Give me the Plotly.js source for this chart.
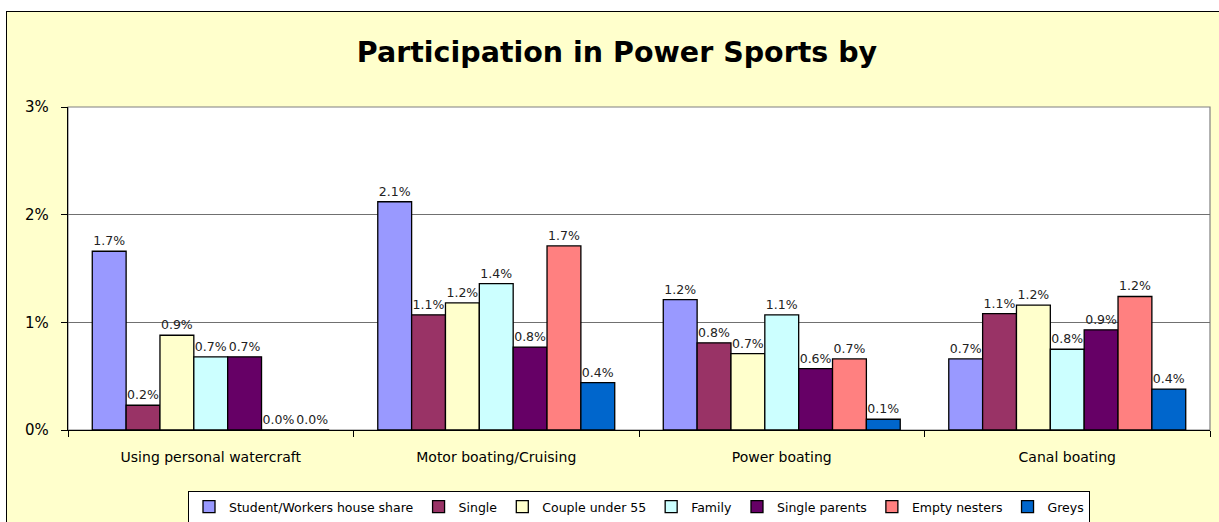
<!DOCTYPE html>
<html>
<head>
<meta charset="utf-8">
<script src="https://cdn.plot.ly/plotly-3.0.1.min.js"></script>
<style>
  html, body { margin: 0; padding: 0; background: #ffffff; width: 1219px; height: 522px; overflow: hidden; }
  #frame { position: absolute; left: 6px; top: 11px; width: 1220px; height: 520px; border: 1.5px solid #000; background: #FFFFCC; }
  #chart { width: 1220px; height: 520px; }
</style>
</head>
<body>
<div id="frame"><div id="chart"></div></div>
<script>
const categories = ["Using personal watercraft", "Motor boating/Cruising", "Power boating", "Canal boating"];
const seriesNames = ["Student/Workers house share", "Single", "Couple under 55", "Family", "Single parents", "Empty nesters", "Greys"];
const seriesColors = ["#9999FF", "#993366", "#FFFFCC", "#CCFFFF", "#660066", "#FF8080", "#0066CC"];
// values in percent
const studentWorkers = [1.66, 2.12, 1.21, 0.66];
const single = [0.23, 1.07, 0.81, 1.08];
const coupleUnder55 = [0.88, 1.18, 0.71, 1.16];
const family = [0.68, 1.36, 1.07, 0.75];
const singleParents = [0.68, 0.77, 0.57, 0.93];
const emptyNesters = [0.0, 1.71, 0.66, 1.24];
const greys = [0.0, 0.44, 0.10, 0.38];
const yTickVals = [0, 1, 2, 3];
const yTickText = ["0%", "1%", "2%", "3%"];

const allSeries = [studentWorkers, single, coupleUnder55, family, singleParents, emptyNesters, greys];
const fontFam = "DejaVu Sans, Verdana, sans-serif";

const traces = allSeries.map((vals, i) => ({
  type: "bar",
  name: seriesNames[i],
  x: categories,
  y: vals,
  marker: { color: seriesColors[i], line: { color: "#000000", width: 1.3 } },
  text: vals.map(v => v.toFixed(1) + "%"),
  textposition: "outside",
  cliponaxis: false,
  textfont: { family: fontFam, size: 12.5, color: "#222222" },
  hoverinfo: "name+y"
}));

const layout = {
  width: 1220,
  height: 520,
  paper_bgcolor: "#FFFFCC",
  plot_bgcolor: "#FFFFFF",
  margin: { l: 61, r: 17, t: 95, b: 102, autoexpand: false },
  barmode: "group",
  bargap: 0.17,
  bargroupgap: 0,
  title: {
    text: "<b>Participation in Power Sports by</b>",
    font: { family: fontFam, size: 28.5, color: "#000000" },
    x: 0.5, xanchor: "center",
    y: 0.923, yanchor: "middle"
  },
  xaxis: {
    type: "category",
    showline: true, linecolor: "#000000", linewidth: 1.2,
    ticks: "outside", ticklen: 6, tickcolor: "#000000", tickson: "boundaries",
    tickfont: { family: fontFam, size: 14, color: "#000000" },
    ticklabelstandoff: 14,
    showgrid: false
  },
  yaxis: {
    range: [0, 3],
    tickvals: yTickVals,
    ticktext: yTickText,
    showline: true, linecolor: "#000000", linewidth: 1.2,
    ticks: "outside", ticklen: 6, tickcolor: "#000000",
    tickfont: { family: fontFam, size: 15, color: "#000000" },
    ticklabelstandoff: 9,
    showgrid: true, gridcolor: "#707070", gridwidth: 1.2,
    zeroline: false
  },
  shapes: [{
    type: "rect", xref: "paper", yref: "paper", x0: 0, x1: 1, y0: 0, y1: 1,
    line: { color: "#808080", width: 1.2 }, layer: "below"
  }],
  showlegend: true,
  legend: {
    orientation: "h",
    x: 0.5, xanchor: "center",
    y: -0.189, yanchor: "top",
    bgcolor: "#FFFFFF",
    bordercolor: "#000000",
    borderwidth: 1,
    font: { family: fontFam, size: 12.5, color: "#000000" },
    itemwidth: 30,
    traceorder: "normal"
  }
};

Plotly.newPlot("chart", traces, layout, { displayModeBar: false, staticPlot: true });
</script>
</body>
</html>
